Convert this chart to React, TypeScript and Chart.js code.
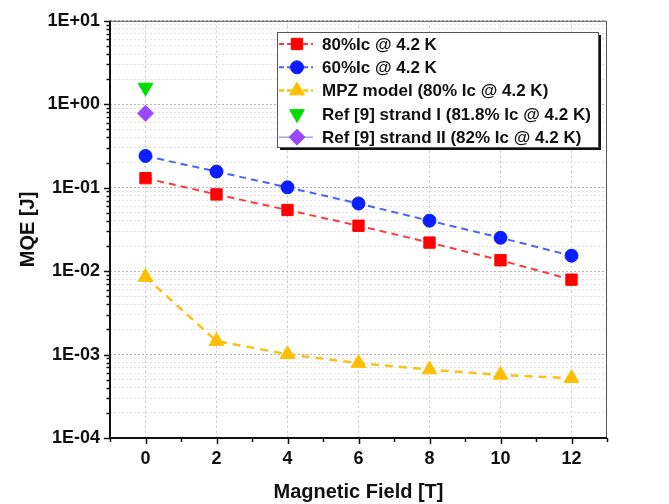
import React, { useEffect, useRef } from 'react';
import { Chart, registerables } from 'chart.js';
import { drawPoint } from 'chart.js/helpers';

Chart.register(...registerables);

// ---- data ----
const fieldT = [0, 2, 4, 6, 8, 10, 12];
const mqe80 = [0.13, 0.083, 0.054, 0.035, 0.022, 0.0135, 0.0079];
const mqe60 = [0.24, 0.156, 0.101, 0.0646, 0.0402, 0.0251, 0.0153];
const mpzModel = [0.0085, 0.00145, 0.00101, 0.00079, 0.00066, 0.00057, 0.00052];
const refIField = [0];
const refIValues = [1.59];
const refIIField = [0];
const refIIValues = [0.78];

const seriesLabels = [
  '80%Ic @ 4.2 K',
  '60%Ic @ 4.2 K',
  'MPZ model (80% Ic @ 4.2 K)',
  'Ref [9] strand I (81.8% Ic @ 4.2 K)',
  'Ref [9] strand II (82% Ic @ 4.2 K)',
];
const xTickLabels = ['0', '2', '4', '6', '8', '10', '12'];
const yTickLabels = ['1E-04', '1E-03', '1E-02', '1E-01', '1E+00', '1E+01'];
const yExponents = [-4, -3, -2, -1, 0, 1];
const xTitle = 'Magnetic Field [T]';
const yTitle = 'MQE [J]';

const FONT = "'Liberation Sans', Arial, sans-serif";

const toPts = (xs: number[], ys: number[]) => xs.map((x, i) => ({ x, y: ys[i] }));

const isMajorY = (v: number) => {
  const e = Math.round(Math.log10(v));
  return Math.abs(v - Math.pow(10, e)) / Math.pow(10, e) < 1e-6;
};

const framePlugin = {
  id: 'frameTicks',
  afterDatasetsDraw(chart: any) {
    const { ctx, chartArea: a } = chart;
    const xs = chart.scales.x;
    const ys = chart.scales.y;
    ctx.save();
    // frame top/right
    ctx.strokeStyle = '#555';
    ctx.lineWidth = 1;
    ctx.beginPath();
    ctx.moveTo(a.left, a.top + 0.5);
    ctx.lineTo(a.right - 0.5, a.top + 0.5);
    ctx.lineTo(a.right - 0.5, a.bottom);
    ctx.stroke();
    // left/bottom axes
    ctx.strokeStyle = '#111';
    ctx.lineWidth = 2;
    ctx.beginPath();
    ctx.moveTo(a.left, a.top);
    ctx.lineTo(a.left, a.bottom);
    ctx.lineTo(a.right, a.bottom);
    ctx.stroke();
    // ticks
    ctx.lineWidth = 1.5;
    ctx.beginPath();
    for (let v = -1; v <= 13; v++) {
      const px = Math.round(xs.getPixelForValue(v)) + 0.5;
      const len = v % 2 === 0 ? 6 : 4;
      ctx.moveTo(px, a.bottom);
      ctx.lineTo(px, a.bottom + len);
    }
    ys.ticks.forEach((t: any) => {
      const py = Math.round(ys.getPixelForValue(t.value)) + 0.5;
      const len = isMajorY(t.value) ? 6 : 3.5;
      ctx.moveTo(a.left, py);
      ctx.lineTo(a.left - len, py);
    });
    ctx.stroke();
    ctx.restore();
  },
};

const legendPlugin = {
  id: 'boxLegend',
  afterDraw(chart: any) {
    const { ctx } = chart;
    const bx = 277, by = 32, bw = 321, bh = 115;
    ctx.save();
    ctx.fillStyle = '#111';
    ctx.fillRect(bx + 3, by + 3, bw, bh);
    ctx.fillStyle = '#fff';
    ctx.fillRect(bx, by, bw, bh);
    ctx.strokeStyle = '#555';
    ctx.lineWidth = 1;
    ctx.strokeRect(bx + 0.5, by + 0.5, bw, bh);
    const rowH = 23.3;
    chart.data.datasets.forEach((ds: any, i: number) => {
      const y = by + 12 + rowH * i;
      if (ds.legendLine !== false) {
        ctx.save();
        ctx.strokeStyle = ds.borderColor;
        ctx.lineWidth = ds.borderWidth || 1.5;
        ctx.setLineDash(ds.legendDash || []);
        ctx.beginPath();
        ctx.moveTo(bx + 2, y);
        ctx.lineTo(bx + 36, y);
        ctx.stroke();
        ctx.restore();
      }
      ctx.fillStyle = ds.pointBackgroundColor;
      ctx.strokeStyle = ds.pointBorderColor;
      drawPoint(
        ctx,
        {
          pointStyle: ds.pointStyle,
          radius: ds.pointRadius,
          rotation: ds.pointRotation || 0,
          borderWidth: 1,
        } as any,
        bx + 20,
        y
      );
      ctx.fillStyle = '#111';
      ctx.font = `bold 17px ${FONT}`;
      ctx.textAlign = 'left';
      ctx.textBaseline = 'middle';
      ctx.fillText(seriesLabels[i], bx + 45, y + 1);
    });
    ctx.restore();
  },
};

export default function App() {
  const ref = useRef<HTMLCanvasElement | null>(null);

  useEffect(() => {
    document.body.style.margin = '0';
    const canvas = ref.current;
    if (!canvas) return;
    const chart = new Chart(canvas, {
      type: 'line',
      data: {
        datasets: [
          {
            label: seriesLabels[0],
            data: toPts(fieldT, mqe80),
            borderColor: '#ff3c3c',
            borderWidth: 2,
            borderDash: [7, 5],
            legendDash: [5, 3],
            pointStyle: 'rect',
            pointRadius: 8,
            pointBackgroundColor: '#ff0000',
            pointBorderColor: '#ff0000',
            pointBorderWidth: 1,
          } as any,
          {
            label: seriesLabels[1],
            data: toPts(fieldT, mqe60),
            borderColor: '#4a62ff',
            borderWidth: 2,
            borderDash: [7, 5],
            legendDash: [5, 3],
            pointStyle: 'circle',
            pointRadius: 6.5,
            pointBackgroundColor: '#0a1eff',
            pointBorderColor: '#0a1eff',
            pointBorderWidth: 1,
          } as any,
          {
            label: seriesLabels[2],
            data: toPts(fieldT, mpzModel),
            borderColor: '#f7c21a',
            borderWidth: 2.5,
            borderDash: [8, 6],
            legendDash: [5, 3],
            pointStyle: 'triangle',
            pointRadius: 8.5,
            pointBackgroundColor: '#ffbf00',
            pointBorderColor: '#ffbf00',
            pointBorderWidth: 1,
          } as any,
          {
            label: seriesLabels[3],
            data: toPts(refIField, refIValues),
            showLine: false,
            legendLine: false,
            borderColor: '#00dd00',
            pointStyle: 'triangle',
            pointRotation: 180,
            pointRadius: 8.5,
            pointBackgroundColor: '#00dd00',
            pointBorderColor: '#00dd00',
            pointBorderWidth: 1,
          } as any,
          {
            label: seriesLabels[4],
            data: toPts(refIIField, refIIValues),
            showLine: false,
            borderColor: '#a9a4dc',
            borderWidth: 1.5,
            legendDash: [],
            pointStyle: 'rectRot',
            pointRadius: 8,
            pointBackgroundColor: '#9a48ff',
            pointBorderColor: '#9a48ff',
            pointBorderWidth: 1,
          } as any,
        ],
      },
      options: {
        responsive: false,
        animation: false,
        events: [],
        layout: { padding: { left: 0, top: 13, right: 62, bottom: 0 } },
        plugins: {
          legend: { display: false },
          tooltip: { enabled: false },
        },
        scales: {
          x: {
            type: 'linear',
            min: -1,
            max: 13,
            afterFit: (s: any) => {
              s.height = 66;
            },
            ticks: {
              stepSize: 1,
              autoSkip: false,
              maxRotation: 0,
              padding: 10,
              color: '#111',
              font: { family: FONT, size: 18, weight: 'bold' },
              callback: (v: any) => {
                const idx = fieldT.indexOf(Number(v));
                return idx >= 0 ? xTickLabels[idx] : '';
              },
            },
            grid: {
              drawTicks: false,
              lineWidth: 1,
              color: (c: any) =>
                c.tick && fieldT.indexOf(c.tick.value) >= 0 ? '#c4c4c4' : 'rgba(0,0,0,0)',
            },
            border: { display: false, dash: [2, 3] },
            title: {
              display: true,
              text: xTitle,
              color: '#111',
              font: { family: FONT, size: 20, weight: 'bold' },
              padding: { top: 2, bottom: 0 },
            },
          },
          y: {
            type: 'logarithmic',
            min: 1e-4,
            max: 10,
            afterFit: (s: any) => {
              s.width = 110;
            },
            afterBuildTicks: (s: any) => {
              const t: any[] = [];
              for (let e = -4; e <= 0; e++) {
                for (let m = 1; m <= 9; m++) t.push({ value: m * Math.pow(10, e) });
              }
              t.push({ value: 10 });
              s.ticks = t;
            },
            ticks: {
              autoSkip: false,
              padding: 10,
              color: '#111',
              font: { family: FONT, size: 18, weight: 'bold' },
              callback: (v: any) => {
                const n = Number(v);
                if (!isMajorY(n)) return '';
                const idx = yExponents.indexOf(Math.round(Math.log10(n)));
                return idx >= 0 ? yTickLabels[idx] : '';
              },
            },
            grid: {
              drawTicks: false,
              lineWidth: 1,
              color: (c: any) =>
                c.tick && isMajorY(c.tick.value) ? '#b4b4b4' : '#e2e2e2',
            },
            border: { display: false, dash: [2, 2] },
            title: {
              display: true,
              text: yTitle,
              color: '#111',
              font: { family: FONT, size: 20, weight: 'bold' },
              padding: { top: 16, bottom: 0 },
            },
          },
        },
      } as any,
      plugins: [framePlugin, legendPlugin],
    });
    return () => chart.destroy();
  }, []);

  return (
    <div style={{ width: 669, height: 504, background: '#fff' }}>
      <canvas ref={ref} width={669} height={504} style={{ display: 'block' }} />
    </div>
  );
}
